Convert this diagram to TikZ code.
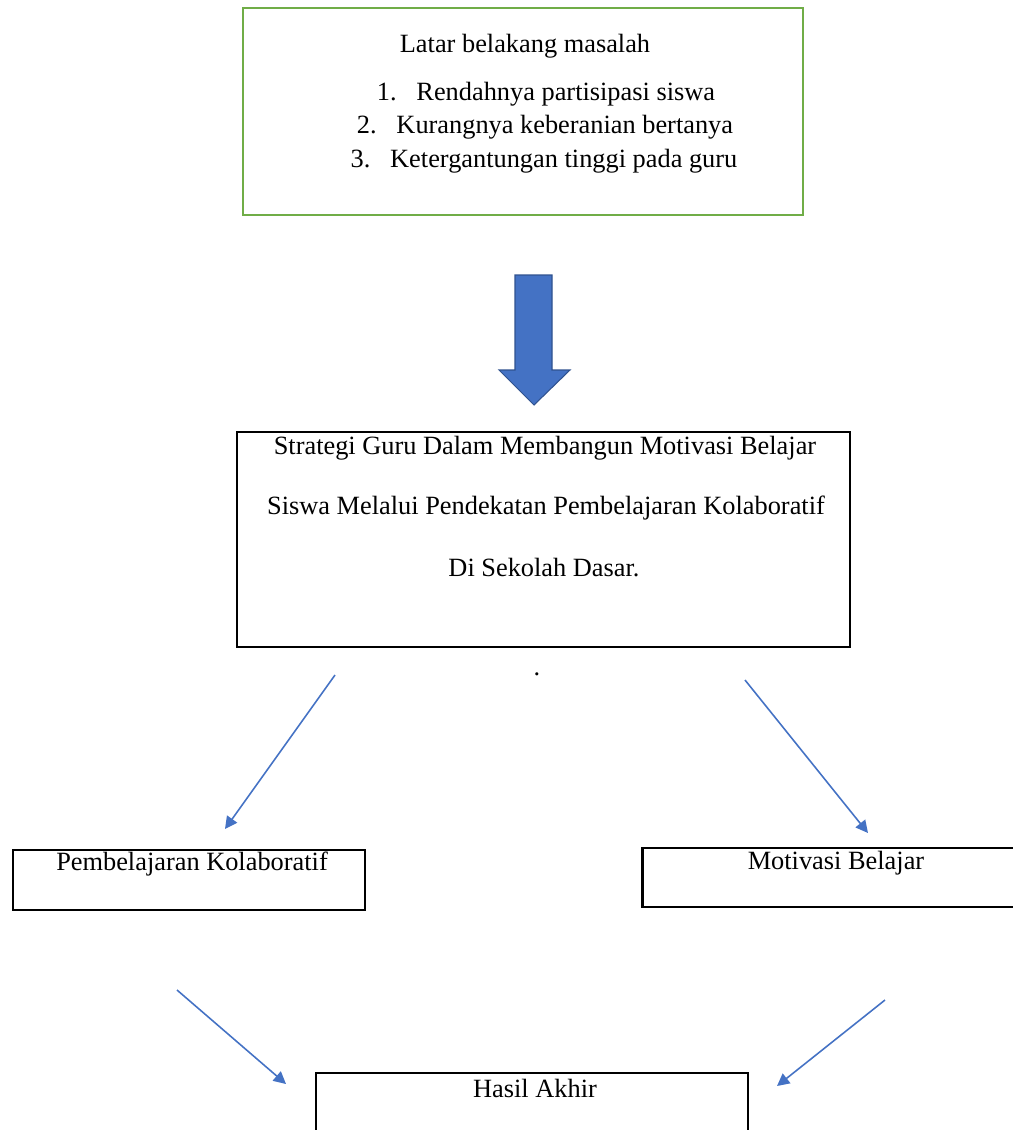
\documentclass[tikz,border=0pt]{standalone}
\usepackage{fontspec}
\setmainfont{Liberation Serif}
\usetikzlibrary{arrows.meta}

\definecolor{hijau}{HTML}{70AD47}
\definecolor{biru}{HTML}{4472C4}
\definecolor{birutua}{HTML}{2F528F}

\tikzset{
    kotak/.style={draw=black, line width=1.2pt, inner sep=0pt},
    teks/.style={inner sep=0pt, font=\fontsize{15}{18}\selectfont},
    panah/.style={draw=biru, line width=0.9pt, -{Triangle[length=7pt, width=7pt]}}
}

\begin{document}
\begin{tikzpicture}[x=0.02cm, y=-0.02cm]

    % Batas gambar
    \useasboundingbox (0, 0) rectangle (1013, 1130);
    \clip (0, 0) rectangle (1013, 1130);

    % Latar belakang masalah (kotak hijau)
    \node[kotak, draw=hijau, line width=1pt, minimum width=11.2cm, minimum height=4.14cm] (latar) at (523, 111.5) {};
    \node[teks] (judul) at (525, 46) {Latar belakang masalah};
    \node[teks] (m1) at (546, 94) {1.\hspace{0.75em}Rendahnya partisipasi siswa};
    \node[teks] (m2) at (545, 127) {2.\hspace{0.75em}Kurangnya keberanian bertanya};
    \node[teks] (m3) at (544, 161) {3.\hspace{0.75em}Ketergantungan tinggi pada guru};

    % Panah blok biru
    \filldraw[fill=biru, draw=birutua, line width=0.6pt]
        (515, 275) -- (552, 275) -- (552, 370) -- (570, 370) -- (534, 405)
        -- (499, 370) -- (515, 370) -- cycle;

    % Kotak strategi
    \node[kotak, minimum width=12.26cm, minimum height=4.3cm] (strategi) at (543.5, 539.5) {};
    \node[teks] (s1) at (545, 448) {Strategi Guru Dalam Membangun Motivasi Belajar};
    \node[teks] (s2) at (546, 508) {Siswa Melalui Pendekatan Pembelajaran Kolaboratif};
    \node[teks] (s3) at (544, 568) {Di Sekolah Dasar.};
    \node[teks] (titik) at (537, 674) {.};

    % Dua cabang
    \node[kotak, minimum width=7.04cm, minimum height=1.2cm] (kolab) at (189, 880) {};
    \node[teks] (tkolab) at (192, 864) {Pembelajaran Kolaboratif};
    \node[kotak, minimum width=7.5cm, minimum height=1.18cm] (motiv) at (830, 877.5) {};
    \node[teks] (tmotiv) at (836, 863) {Motivasi Belajar};

    % Hasil akhir
    \node[kotak, minimum width=8.64cm, minimum height=1.4cm] (hasil) at (532, 1108) {};
    \node[teks] (thasil) at (535, 1088) {Hasil Akhir};

    % Ujung-ujung panah
    \coordinate (a1) at (335, 675);
    \coordinate (b1) at (225, 829);
    \coordinate (a2) at (745, 680);
    \coordinate (b2) at (868, 833);
    \coordinate (a3) at (177, 990);
    \coordinate (b3) at (286, 1084);
    \coordinate (a4) at (885, 1000);
    \coordinate (b4) at (777, 1086);

    \draw[panah] (a1) -- (b1);
    \draw[panah] (a2) -- (b2);
    \draw[panah] (a3) -- (b3);
    \draw[panah] (a4) -- (b4);
\end{tikzpicture}
\end{document}
